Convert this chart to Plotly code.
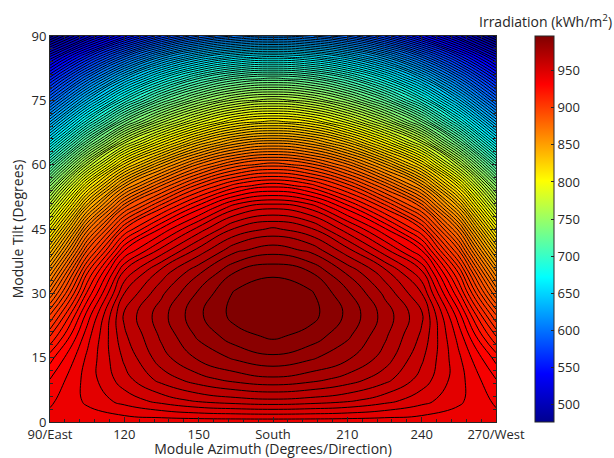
import plotly.graph_objects as go

# Module azimuth (degrees) and module tilt (degrees) grid
azimuth_deg = [90, 105, 120, 135, 150, 165, 180, 195, 210, 225, 240, 255, 270]
tilt_deg = [0, 5, 10, 15, 20, 25, 30, 35, 40, 45, 50, 55, 60, 65, 70, 75, 80, 85, 90]

# Annual irradiation (kWh/m^2), one row per tilt, columns follow azimuth_deg
irr_t00 = [937, 937, 937, 937, 937, 937, 937, 937, 937, 937, 937, 937, 937]
irr_t05 = [934, 941, 947, 952, 956, 958, 959, 958, 956, 952, 947, 941, 934]
irr_t10 = [930, 942, 953, 962, 968, 972, 974, 972, 968, 962, 953, 942, 930]
irr_t15 = [923, 941, 956, 968, 976, 981, 984, 981, 976, 968, 956, 941, 923]
irr_t20 = [910, 938, 959, 971, 981, 988, 991, 988, 981, 971, 959, 938, 910]
irr_t25 = [895, 932, 961, 973, 984, 992, 994, 992, 984, 973, 961, 932, 895]
irr_t30 = [876, 921, 955, 969, 981, 991, 993, 991, 981, 969, 955, 921, 876]
irr_t35 = [856, 909, 946, 962, 974, 985, 989, 985, 974, 962, 946, 909, 856]
irr_t40 = [832, 890, 930, 947, 962, 974, 978, 974, 962, 947, 930, 890, 832]
irr_t45 = [805, 868, 910, 931, 947, 961, 966, 961, 947, 931, 910, 868, 805]
irr_t50 = [776, 840, 885, 909, 928, 944, 949, 944, 928, 909, 885, 840, 776]
irr_t55 = [745, 808, 854, 881, 903, 918, 924, 918, 903, 881, 854, 808, 745]
irr_t60 = [708, 769, 817, 847, 871, 887, 893, 887, 871, 847, 817, 769, 708]
irr_t65 = [668, 726, 775, 806, 832, 849, 855, 849, 832, 806, 775, 726, 668]
irr_t70 = [630, 683, 730, 763, 788, 806, 812, 806, 788, 763, 730, 683, 630]
irr_t75 = [593, 642, 686, 720, 745, 762, 768, 762, 745, 720, 686, 642, 593]
irr_t80 = [558, 602, 643, 676, 701, 717, 722, 717, 701, 676, 643, 602, 558]
irr_t85 = [522, 560, 596, 627, 649, 663, 668, 663, 649, 627, 596, 560, 522]
irr_t90 = [477, 512, 543, 570, 590, 601, 605, 601, 590, 570, 543, 512, 477]

x_tick_vals = [90, 120, 150, 180, 210, 240, 270]
x_tick_text = ["90/East", "120", "150", "South", "210", "240", "270/West"]
y_tick_vals = [0, 15, 30, 45, 60, 75, 90]
cbar_tick_vals = [500, 550, 600, 650, 700, 750, 800, 850, 900, 950]

z = [irr_t00, irr_t05, irr_t10, irr_t15, irr_t20, irr_t25, irr_t30, irr_t35,
     irr_t40, irr_t45, irr_t50, irr_t55, irr_t60, irr_t65, irr_t70, irr_t75,
     irr_t80, irr_t85, irr_t90]

jet = [
    [0.0, "rgb(0,0,143)"],
    [0.125, "rgb(0,0,255)"],
    [0.375, "rgb(0,255,255)"],
    [0.625, "rgb(255,255,0)"],
    [0.875, "rgb(255,0,0)"],
    [1.0, "rgb(128,0,0)"],
]

axis_col = "#262626"
fig = go.Figure()

# hidden heatmap only supplies the smooth colour bar (covered by the contour fill)
fig.add_trace(go.Heatmap(
    x=azimuth_deg, y=tilt_deg, z=z,
    colorscale=jet, zmin=476, zmax=997,
    hoverinfo="skip",
    colorbar=dict(
        x=(535 - 50) / 446, xanchor="left", xpad=0,
        y=0.5, yanchor="middle", len=1.0, lenmode="fraction", ypad=0,
        thickness=19, thicknessmode="pixels",
        outlinewidth=1, outlinecolor=axis_col,
        tickvals=cbar_tick_vals, ticks="inside", ticklen=3, tickcolor=axis_col,
        tickfont=dict(size=13, color=axis_col),
    ),
))

fig.add_trace(go.Contour(
    x=azimuth_deg, y=tilt_deg, z=z,
    colorscale=jet, zmin=476, zmax=997,
    autocontour=False,
    contours=dict(start=480, end=990, size=5, coloring="fill"),
    line=dict(color="black", width=1, smoothing=1.3),
    showscale=False,
    hoverinfo="skip",
))

fig.update_layout(
    width=614, height=458,
    margin=dict(l=50, r=118, t=36, b=36),
    paper_bgcolor="white", plot_bgcolor="white",
    font=dict(family="Open Sans", size=13, color=axis_col),
    annotations=[dict(
        text="Irradiation (kWh/m<sup>2</sup>)", xref="paper", yref="paper",
        x=(545 - 50) / 446, y=(422 - 21) / 386, xanchor="center", yanchor="middle",
        showarrow=False, font=dict(size=14, color=axis_col),
    )],
)
fig.update_xaxes(
    range=[90, 270], tickvals=x_tick_vals, ticktext=x_tick_text,
    ticks="inside", ticklen=5, tickcolor=axis_col, tickwidth=1,
    showline=True, linecolor=axis_col, linewidth=1, mirror="ticks",
    minor=dict(tick0=90, dtick=6, ticks="inside", ticklen=3, tickcolor=axis_col),
    showgrid=False, zeroline=False, automargin=False,
    tickfont=dict(size=13),
    title=dict(text="Module Azimuth (Degrees/Direction)", font=dict(size=14), standoff=2),
)
fig.update_yaxes(
    range=[0, 90], tickvals=y_tick_vals,
    ticks="inside", ticklen=5, tickcolor=axis_col, tickwidth=1,
    showline=True, linecolor=axis_col, linewidth=1, mirror="ticks",
    minor=dict(tick0=0, dtick=3, ticks="inside", ticklen=3, tickcolor=axis_col),
    showgrid=False, zeroline=False, automargin=False,
    tickfont=dict(size=13),
    title=dict(text="Module Tilt (Degrees)", font=dict(size=14), standoff=4),
)

fig.write_html("out.html", config={"displayModeBar": False},
               post_script="document.body.style.margin='0px';")
